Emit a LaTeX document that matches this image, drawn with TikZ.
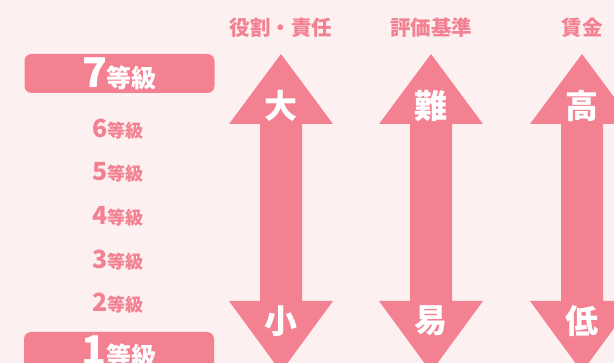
\documentclass[tikz,border=0pt]{standalone}
\usepackage{fontspec}
\newfontfamily\jp{Noto Sans CJK JP}
\definecolor{bgpink}{HTML}{FDF0F1}
\definecolor{rosa}{HTML}{F38191}
\tikzset{
  gradebox/.style={fill=rosa,rounded corners=7pt,minimum width=190pt,minimum height=39pt,text=white,inner sep=0pt},
  gradetext/.style={text=rosa,inner sep=0pt},
  colhead/.style={text=rosa,inner sep=0pt,font=\jp\bfseries\fontsize{20.5pt}{20.5pt}\selectfont},
  tiptext/.style={text=white,inner sep=0pt,font=\jp\bfseries\fontsize{33pt}{33pt}\selectfont}
}
\begin{document}
\begin{tikzpicture}[x=1pt,y=-1pt]
  \fill[bgpink] (0,0) rectangle (614,363);
  \useasboundingbox (0,0) rectangle (614,363);
  \clip (0,0) rectangle (614,363);
  % double arrows with their headings
  \foreach \cx/\hd/\hi/\lo/\nm in {281/役割・責任/大/小/role,431/評価基準/難/易/eval,582/賃金/高/低/wage}{
    \fill[rosa] (\cx,54) -- ++(52,70) -- ++(-31,0) -- ++(0,177) -- ++(31,0)
      -- ++(-52,71) -- ++(-52,-71) -- ++(31,0) -- ++(0,-177) -- ++(-31,0) -- cycle;
    \node[colhead] (head-\nm) at (\cx,28) {\hd};
    \node[tiptext] (hi-\nm) at (\cx,106) {\hi};
    \node[tiptext] (lo-\nm) at (\cx,321) {\lo};
  }
  % grades
  \node[gradebox] (g7) at (119.5,73.5) {\jp\bfseries\fontsize{41pt}{41pt}\selectfont 7\fontsize{25pt}{25pt}\selectfont 等級};
  \foreach \n/\y in {6/129,5/172,4/216,3/260,2/303}
    \node[gradetext] (g\n) at (118,\y) {\jp\bfseries\fontsize{25pt}{25pt}\selectfont\n\fontsize{18pt}{18pt}\selectfont 等級};
  \node[gradebox] (g1) at (119,351.5) {\jp\bfseries\fontsize{41pt}{41pt}\selectfont 1\fontsize{25pt}{25pt}\selectfont 等級};
\end{tikzpicture}
\end{document}
